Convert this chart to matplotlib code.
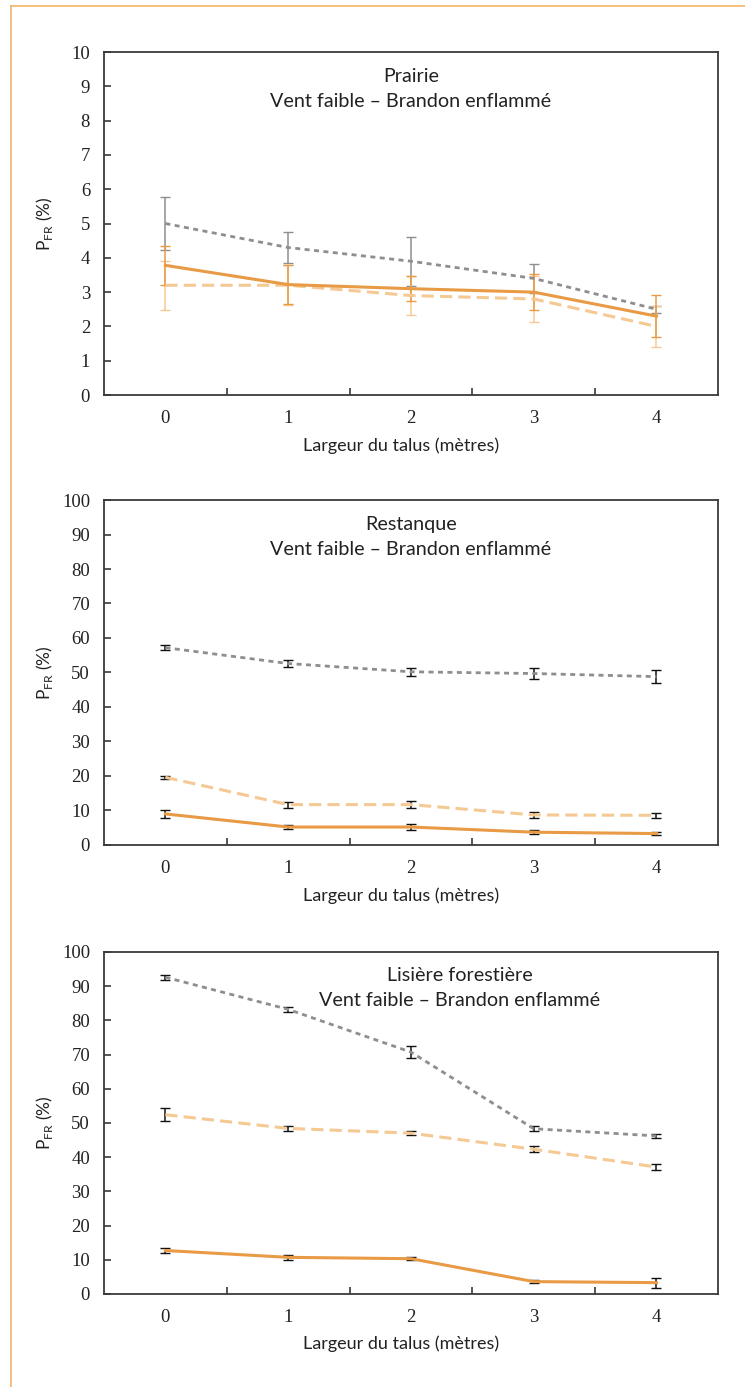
import matplotlib.pyplot as plt
from matplotlib.lines import Line2D

widths = [0, 1, 2, 3, 4]
titles = ["Prairie", "Restanque", "Lisière forestière"]
subtitle = "Vent faible – Brandon enflammé"

# gray dotted series
grey_vals = [[5.0, 4.3, 3.9, 3.4, 2.5],
             [57.2, 52.6, 50.2, 49.7, 48.8],
             [92.6, 83.2, 70.7, 48.3, 46.2]]
grey_err = [[0.78, 0.44, 0.72, 0.42, 0.1],
            [0.7, 0.9, 1.2, 1.5, 1.8],
            [0.7, 0.8, 1.85, 0.8, 0.6]]
# light orange dashed series
light_vals = [[3.2, 3.2, 2.9, 2.8, 2.0],
              [19.6, 11.7, 11.7, 8.7, 8.6],
              [52.4, 48.4, 47.0, 42.3, 37.1]]
light_err = [[0.72, 0.58, 0.56, 0.66, 0.59],
             [0.5, 0.85, 1.1, 1.0, 0.8],
             [1.9, 0.7, 0.6, 0.9, 0.9]]
# orange solid series
solid_vals = [[3.78, 3.22, 3.1, 3.0, 2.3],
              [9.0, 5.2, 5.2, 3.7, 3.3],
              [12.7, 10.7, 10.3, 3.6, 3.3]]
solid_err = [[0.57, 0.58, 0.36, 0.53, 0.61],
             [1.05, 0.55, 0.9, 0.6, 0.4],
             [0.6, 0.7, 0.4, 0.4, 1.5]]
y_max = [10, 100, 100]
y_step = [1, 10, 10]
title_x = [0.5, 0.5, 0.58]

grey = "#8e8e90"
light = "#f5c994"
orange = "#e89a45"
frame = "#3a3a3a"

fig = plt.figure(figsize=(7.45, 13.87), dpi=100)
boxes = [[0.1396, 0.7152, 0.824, 0.2473],
         [0.1396, 0.3908, 0.824, 0.2487],
         [0.1396, 0.0671, 0.824, 0.2466]]

for i in range(3):
    ax = fig.add_axes(boxes[i])
    if i == 0:
        ecs = [grey, light, orange]
    else:
        ecs = ["#111111"] * 3
    ax.errorbar(widths, grey_vals[i], yerr=grey_err[i], color=grey, lw=2,
                linestyle=(0, (1.8, 1.6)), ecolor=ecs[0], elinewidth=1.1, capsize=3.5)
    ax.errorbar(widths, light_vals[i], yerr=light_err[i], color=light, lw=2.2,
                linestyle=(0, (4, 2)), ecolor=ecs[1], elinewidth=1.1, capsize=3.5)
    ax.errorbar(widths, solid_vals[i], yerr=solid_err[i], color=orange, lw=2.2,
                linestyle="-", ecolor=ecs[2], elinewidth=1.1, capsize=3.5)
    ax.set_xlim(-0.5, 4.5)
    ax.set_ylim(0, y_max[i])
    ax.set_yticks(range(0, y_max[i] + 1, y_step[i]))
    ax.set_xticks(widths)
    ax.set_xticks([0.5, 1.5, 2.5, 3.5], minor=True)
    ax.tick_params(axis="x", which="major", length=0, pad=11)
    ax.tick_params(axis="x", which="minor", direction="in", length=5, width=1.2, color=frame)
    ax.tick_params(axis="y", direction="in", length=5, width=1.2, color=frame, pad=10)
    for lab in ax.get_xticklabels() + ax.get_yticklabels():
        lab.set_fontfamily("Liberation Serif")
        lab.set_fontsize(13.5)
        lab.set_color("#222222")
    for sp in ax.spines.values():
        sp.set_color(frame)
        sp.set_linewidth(1.3)
    ax.set_xlabel("Largeur du talus (mètres)", family="Lato", fontsize=13, color="#222222",
                  labelpad=7, x=0.484)
    ax.set_ylabel(r"P$_\mathregular{FR}$ (%)", family="Lato", fontsize=12.5, color="#222222")
    ax.yaxis.set_label_coords(-0.08, 0.5)
    ax.text(title_x[i], 0.93, titles[i], transform=ax.transAxes, ha="center", va="center",
            family="Lato", fontsize=14.2, color="#222222")
    ax.text(title_x[i], 0.857, subtitle, transform=ax.transAxes, ha="center", va="center",
            family="Lato", fontsize=14.2, color="#222222")

# orange page border (top and left)
fig.add_artist(Line2D([11 / 745, 1.0], [1 - 6 / 1387, 1 - 6 / 1387], color="#f2b46c", lw=1.2))
fig.add_artist(Line2D([11 / 745, 11 / 745], [0.0, 1 - 6 / 1387], color="#f2b46c", lw=1.2))

fig.savefig("out.png", dpi=100)
